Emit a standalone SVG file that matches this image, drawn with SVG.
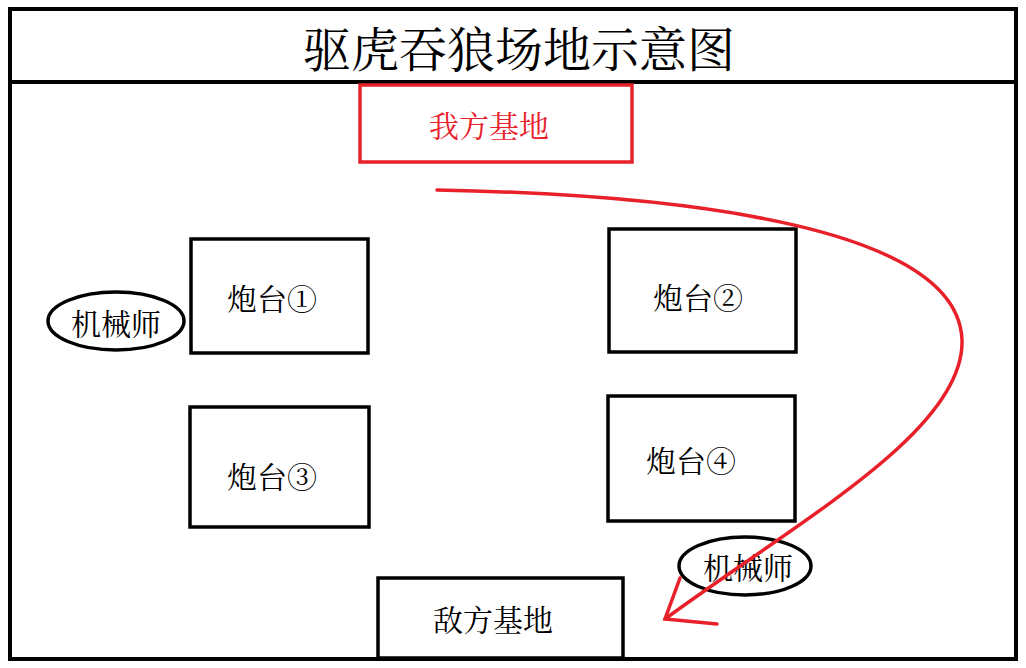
<svg xmlns="http://www.w3.org/2000/svg" width="1026" height="668" viewBox="0 0 1026 668">
<style>
.b{fill:#fff;stroke:#000;stroke-width:3.5}
.t{font-family:"Noto Serif CJK SC","Noto Sans CJK SC",serif;font-size:30px;fill:#000;text-anchor:middle;dominant-baseline:central}
.r{fill:none;stroke:#e8202a;stroke-width:3.5;stroke-linecap:round}
</style>
<rect x="0" y="0" width="1026" height="668" fill="#fff"/>
<g id="frame"><rect x="10" y="9" width="1006" height="650" fill="none" stroke="#000" stroke-width="4"/>
<line x1="10" y1="82" x2="1016" y2="82" stroke="#000" stroke-width="4"/>
<text class="t" x="519" y="46" style="font-size:48px">驱虎吞狼场地示意图</text></g>
<g id="base1"><rect x="360" y="85" width="272" height="77" fill="#fff" stroke="#e8202a" stroke-width="3.5"/><text class="t" x="489" y="124" style="fill:#e8202a">我方基地</text></g>
<g id="t1"><rect class="b" x="191" y="239" width="177" height="114"/><text class="t" x="272" y="297">炮台①</text></g>
<g id="t2"><rect class="b" x="609" y="229" width="187" height="123"/><text class="t" x="698" y="296">炮台②</text></g>
<g id="t3"><rect class="b" x="190" y="407" width="179" height="120"/><text class="t" x="272" y="475">炮台③</text></g>
<g id="t4"><rect class="b" x="608" y="396" width="187" height="125"/><text class="t" x="691" y="459">炮台④</text></g>
<g id="base2"><rect class="b" x="378" y="578" width="245" height="80"/><text class="t" x="493" y="618">敌方基地</text></g>
<g id="m1"><ellipse cx="116" cy="321" rx="68" ry="29" fill="#fff" stroke="#000" stroke-width="3.5"/><text class="t" x="116" y="322">机械师</text></g>
<g id="m2"><ellipse cx="745" cy="566" rx="66" ry="29" fill="#fff" stroke="#000" stroke-width="3.5"/><text class="t" x="748" y="566">机械师</text></g>
<g id="connectors">
<path class="r" d="M437,190 C700,195 958,230 962,340 C965,430 800,520 665,619"/>
<path class="r" d="M680,578 L665,619 L717,624"/>
</g>
</svg>
